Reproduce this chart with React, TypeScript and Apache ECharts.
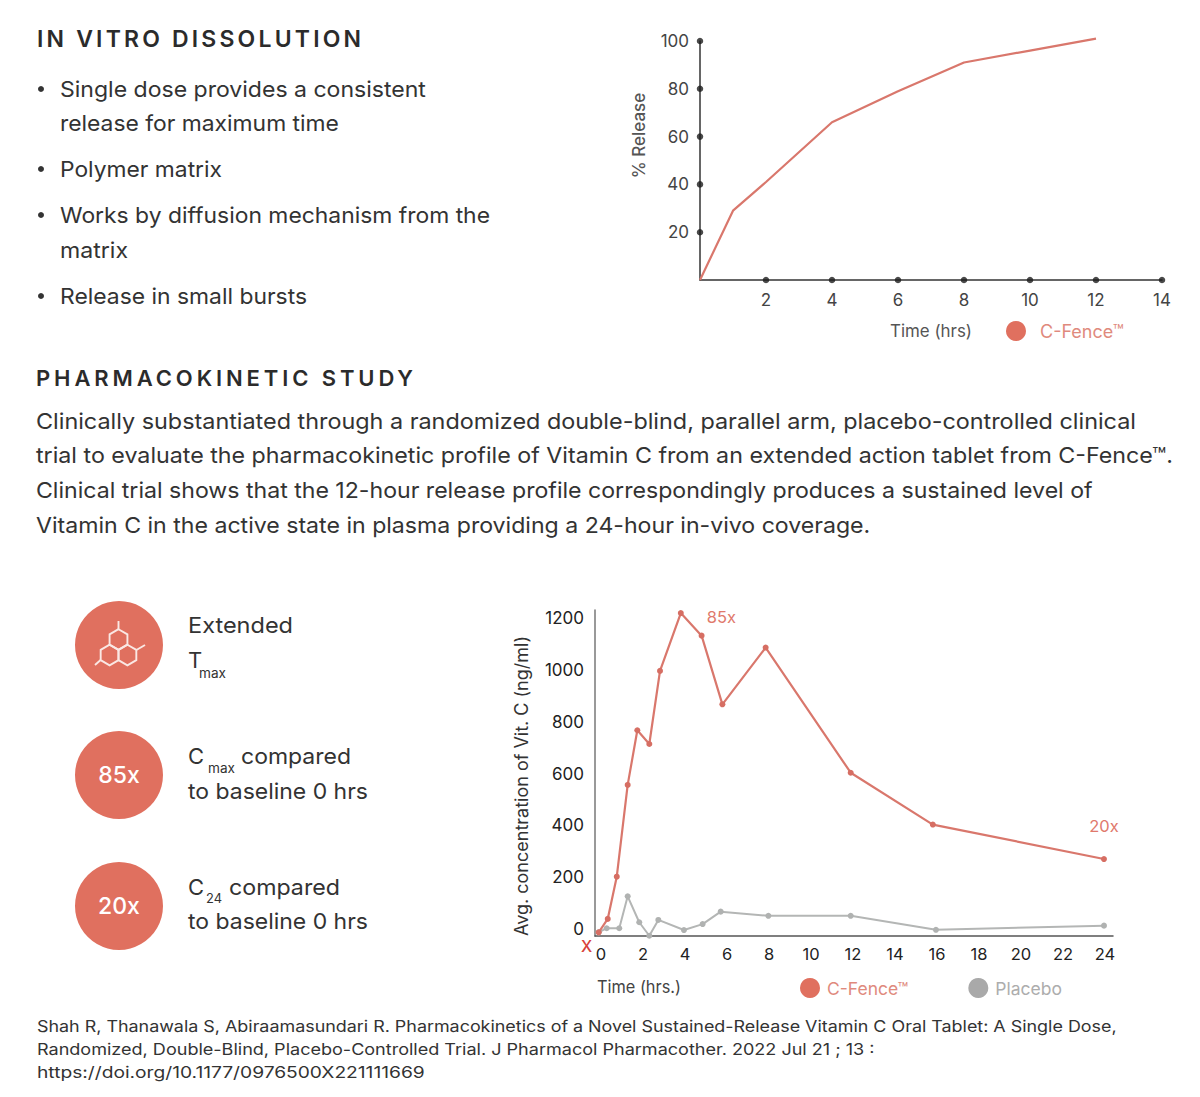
import React, { useEffect, useRef } from "react";
import * as echarts from "echarts";

const FONT = "Inter";
const CORAL = "#E0705F";
const LINE_RED = "#D9776C";
const GREY = "#B4B6B5";

// In vitro chart
const releaseHours = [0, 1, 2, 4, 6, 8, 10, 12];
const releaseValues = [0, 29, 41, 66, 79, 91, 96, 101];
const releaseXTicks = [2, 4, 6, 8, 10, 12, 14];
const releaseYTicks = [20, 40, 60, 80, 100];

// Pharmacokinetic chart
const pkXTicks = [0, 2, 4, 6, 8, 10, 12, 14, 16, 18, 20, 22, 24];
const pkYTicks = [0, 200, 400, 600, 800, 1000, 1200];
const cFenceHours = [-0.11, 0.32, 0.75, 1.27, 1.73, 2.3, 2.81, 3.8, 4.79, 5.78, 7.84, 11.89, 15.8, 23.95];
const cFenceValues = [-13, 39, 202, 556, 767, 714, 996, 1219, 1132, 867, 1086, 603, 403, 270];
const placeboHours = [-0.11, 0.27, 0.87, 1.27, 1.82, 2.3, 2.73, 3.95, 4.84, 5.7, 7.97, 11.89, 15.95, 23.95];
const placeboValues = [-13, 3, 3, 126, 26, -26, 35, -4, 19, 67, 51, 51, -3, 13];

// Texts
const headingOne = "IN VITRO DISSOLUTION";
const headingTwo = "PHARMACOKINETIC STUDY";
const bulletLines = [
  "Single dose provides a consistent",
  "release for maximum time",
  "Polymer matrix",
  "Works by diffusion mechanism from the",
  "matrix",
  "Release in small bursts",
];
const paragraphLines = [
  "Clinically substantiated through a randomized double-blind, parallel arm, placebo-controlled clinical",
  "trial to evaluate the pharmacokinetic profile of Vitamin C from an extended action tablet from C-Fence™.",
  "Clinical trial shows that the 12-hour release profile correspondingly produces a sustained level of",
  "Vitamin C in the active state in plasma providing a 24-hour in-vivo coverage.",
];
const citationLines = [
  "Shah R, Thanawala S, Abiraamasundari R. Pharmacokinetics of a Novel Sustained-Release Vitamin C Oral Tablet: A Single Dose,",
  "Randomized, Double-Blind, Placebo-Controlled Trial. J Pharmacol Pharmacother. 2022 Jul 21 ; 13 :",
  "https://doi.org/10.1177/0976500X221111669",
];

const measure = document.createElement("canvas").getContext("2d") as CanvasRenderingContext2D;

function textWidth(text: string, size: number, weight: number | string): number {
  measure.font = `${weight} ${size}px ${FONT}`;
  return measure.measureText(text).width;
}

function txt(text: string, x: number, y: number, size: number, fill: string, width?: number, weight: number | string = 400, align = "left"): any {
  const scaleX = width ? width / textWidth(text, size, weight) : 1;
  return {
    type: "text",
    x,
    y,
    scaleX,
    silent: true,
    style: { text, fill, fontFamily: FONT, fontSize: size, fontWeight: weight, textAlign: align, textVerticalAlign: "middle" },
  };
}

function hexagon(cx: number, cy: number, r: number): any {
  const points: number[][] = [];
  for (let i = 0; i < 6; i++) {
    const a = (Math.PI / 3) * i - Math.PI / 2;
    points.push([cx + r * Math.cos(a), cy + r * Math.sin(a)]);
  }
  return { type: "polygon", silent: true, shape: { points }, style: { fill: "none", stroke: "#FAE8E4", lineWidth: 1.9 } };
}

function stub(x1: number, y1: number, x2: number, y2: number): any {
  return { type: "line", silent: true, shape: { x1, y1, x2, y2 }, style: { stroke: "#FAE8E4", lineWidth: 1.9 } };
}

function circle(cy: number): any {
  return { type: "circle", silent: true, shape: { cx: 119, cy, r: 44 }, style: { fill: CORAL } };
}

function buildGraphics(): any[] {
  const ink = "#333";
  const bulletY = [89, 123, 169, 215, 250, 296];
  const bulletW = [366, 279, 162, 430, 68, 247];
  const paraY = [421, 455, 490, 525];
  const paraW = [1101, 1138, 1058, 835];
  const citeY = [1026, 1049, 1072];
  const citeW = [1080, 838, 388];
  const els: any[] = [
    txt(headingOne, 37, 39, 23, "#2b2b2b", undefined, 600),
    txt(headingTwo, 36, 378, 22, "#2b2b2b", undefined, 600),
  ];
  bulletLines.forEach((t, i) => els.push(txt(t, 60, bulletY[i], 22, ink, bulletW[i])));
  [89, 169, 215, 296].forEach((cy) =>
    els.push({ type: "circle", silent: true, shape: { cx: 41, cy, r: 3 }, style: { fill: ink } })
  );
  paragraphLines.forEach((t, i) => els.push(txt(t, 36, paraY[i], 22, ink, paraW[i])));
  citationLines.forEach((t, i) => els.push(txt(t, 37, citeY[i], 16, ink, citeW[i])));

  els.push(circle(645), circle(775), circle(906));
  els.push(hexagon(118.5, 639.5, 10.3), hexagon(109.6, 655, 10.3), hexagon(127.4, 655, 10.3));
  els.push(stub(118.5, 629, 118.5, 621), stub(136.4, 650, 145, 645), stub(100.6, 660, 95, 665));
  els.push(txt("85x", 119, 775, 23, "#fff", undefined, 500, "center"));
  els.push(txt("20x", 119, 906, 23, "#fff", undefined, 500, "center"));

  els.push(txt("Extended", 188, 625, 22, ink, 105));
  els.push(txt("T", 188, 660, 22, ink));
  els.push(txt("max", 199, 673, 13, ink, 27));
  els.push(txt("C", 188, 756, 22, ink));
  els.push(txt("max", 208, 768, 13, ink, 27));
  els.push(txt("compared", 241, 756, 22, ink, 110));
  els.push(txt("to baseline 0 hrs", 188, 791, 22, ink, 180));
  els.push(txt("C", 188, 887, 22, ink));
  els.push(txt("24", 206, 898, 13, ink, 16));
  els.push(txt("compared", 229, 887, 22, ink, 111));
  els.push(txt("to baseline 0 hrs", 188, 921, 22, ink, 180));

  els.push(txt("Time (hrs)", 890, 331, 17, "#555", 82));
  els.push(txt("Time (hrs.)", 597, 987, 17, "#444", 84));
  els.push(txt("X", 586.5, 946, 16, "#D8413A", undefined, 500, "center"));
  return els;
}

const dotSeries = (xAxisIndex: number, yAxisIndex: number, data: number[][]) => ({
  type: "scatter",
  xAxisIndex,
  yAxisIndex,
  data,
  symbolSize: 6.5,
  silent: true,
  clip: false,
  itemStyle: { color: "#1d1d1d" },
  z: 5,
});

export default function App() {
  const ref = useRef<HTMLDivElement>(null);
  useEffect(() => {
    const host = ref.current as HTMLDivElement;
    const chart = echarts.init(host, undefined, { renderer: "svg" });
    const plain = (v: number) => String(v);
    const peakIndex = 7;
    const lastIndex = cFenceValues.length - 1;
    chart.setOption({
      animation: false,
      backgroundColor: "#fff",
      textStyle: { fontFamily: FONT },
      graphic: { elements: buildGraphics() },
      legend: [
        {
          left: 1006,
          top: 321,
          padding: 0,
          icon: "circle",
          itemWidth: 20,
          itemHeight: 20,
          itemStyle: { color: CORAL },
          textStyle: { fontFamily: FONT, fontSize: 18, color: "#E08A7D", padding: [0, 0, 0, 9] },
          selectedMode: false,
          data: ["C-Fence™"],
        },
        {
          left: 800,
          top: 978,
          padding: 0,
          icon: "circle",
          itemWidth: 20,
          itemHeight: 20,
          itemGap: 60,
          selectedMode: false,
          textStyle: { fontFamily: FONT, fontSize: 17.5, padding: [0, 0, 0, 2] },
          data: [
            { name: "C-Fence™", itemStyle: { color: CORAL }, textStyle: { color: "#E08A7D" } },
            { name: "Placebo", itemStyle: { color: "#A9A9A9" }, textStyle: { color: "#ADADAD" } },
          ],
        },
      ],
      grid: [
        { left: 700, top: 41, width: 462, height: 239 },
        { left: 595, top: 610, width: 518, height: 326 },
      ],
      xAxis: [
        {
          gridIndex: 0,
          type: "value",
          min: 0,
          max: 14,
          interval: 2,
          splitLine: { show: false },
          axisTick: { show: false },
          axisLine: { show: true, lineStyle: { color: "#333", width: 1.5 } },
          axisLabel: { fontFamily: FONT, fontSize: 17, color: "#444", margin: 11, showMinLabel: false, formatter: plain },
        },
        {
          gridIndex: 1,
          type: "value",
          min: -0.286,
          max: 24.38,
          splitLine: { show: false },
          axisTick: { show: false },
          axisLine: { show: true, onZero: false, lineStyle: { color: "#555", width: 1.5 } },
          axisLabel: { fontFamily: FONT, fontSize: 16.5, color: "#222", margin: 9, customValues: pkXTicks, formatter: plain },
        },
      ],
      yAxis: [
        {
          gridIndex: 0,
          type: "value",
          min: 0,
          max: 100,
          interval: 20,
          name: "% Release",
          nameLocation: "middle",
          nameRotate: 90,
          nameGap: 53,
          nameTextStyle: { fontFamily: FONT, fontSize: 17, fontWeight: 500, color: "#555", padding: [0, 0, 0, 50] },
          splitLine: { show: false },
          axisTick: { show: false },
          axisLine: { show: true, lineStyle: { color: "#333", width: 1.5 } },
          axisLabel: { fontFamily: FONT, fontSize: 17, color: "#444", margin: 11, showMinLabel: false, formatter: plain },
        },
        {
          gridIndex: 1,
          type: "value",
          min: -27,
          max: 1231,
          name: "Avg. concentration of Vit. C (ng/ml)",
          nameLocation: "middle",
          nameRotate: 90,
          nameGap: 65,
          nameTextStyle: { fontFamily: FONT, fontSize: 18, color: "#333", padding: [0, 26, 0, 0] },
          splitLine: { show: false },
          axisTick: { show: false },
          axisLine: { show: true, onZero: false, lineStyle: { color: "#777", width: 1.5 } },
          axisLabel: { fontFamily: FONT, fontSize: 17, color: "#222", margin: 11, customValues: pkYTicks, formatter: plain },
        },
      ],
      series: [
        {
          name: "C-Fence™",
          type: "line",
          xAxisIndex: 0,
          yAxisIndex: 0,
          clip: false,
          symbol: "none",
          itemStyle: { color: CORAL },
          lineStyle: { color: LINE_RED, width: 2.2 },
          data: releaseHours.map((h, i) => [h, releaseValues[i]]),
          z: 3,
        },
        dotSeries(0, 0, releaseXTicks.map((h) => [h, 0])),
        dotSeries(0, 0, releaseYTicks.map((v) => [0, v])),
        {
          name: "Placebo",
          type: "line",
          xAxisIndex: 1,
          yAxisIndex: 1,
          clip: false,
          symbol: "circle",
          symbolSize: 6,
          itemStyle: { color: "#B0B2B1" },
          lineStyle: { color: GREY, width: 2 },
          data: placeboHours.map((h, i) => [h, placeboValues[i]]),
          z: 2,
        },
        {
          name: "C-Fence™",
          type: "line",
          xAxisIndex: 1,
          yAxisIndex: 1,
          clip: false,
          symbol: "circle",
          symbolSize: 6,
          itemStyle: { color: "#D66E63" },
          lineStyle: { color: LINE_RED, width: 2.2 },
          data: cFenceHours.map((h, i) => {
            const value = [h, cFenceValues[i]];
            if (i === peakIndex) {
              return { value, label: { show: true, formatter: "85x", position: "right", distance: 23, offset: [0, 4], color: "#E0796C", fontFamily: FONT, fontSize: 16.5 } };
            }
            if (i === lastIndex) {
              return { value, label: { show: true, formatter: "20x", position: "top", distance: 22, color: "#E0796C", fontFamily: FONT, fontSize: 16.5 } };
            }
            return { value };
          }),
          z: 3,
        },
      ],
    });
    // ECharts has no letter-spacing option, so the two spaced headings get it on their SVG text.
    const spaced: [string, number, number, number][] = [
      [headingOne, 23, 324, 600],
      [headingTwo, 22, 377, 600],
    ];
    host.querySelectorAll("text").forEach((node) => {
      const hit = spaced.find((s) => s[0] === node.textContent);
      if (hit) {
        const gap = (hit[2] - textWidth(hit[0], hit[1], hit[3])) / (hit[0].length - 1);
        node.style.letterSpacing = `${gap}px`;
      }
    });
    return () => chart.dispose();
  }, []);
  return <div ref={ref} style={{ position: "absolute", left: 0, top: 0, width: 1200, height: 1097 }} />;
}
